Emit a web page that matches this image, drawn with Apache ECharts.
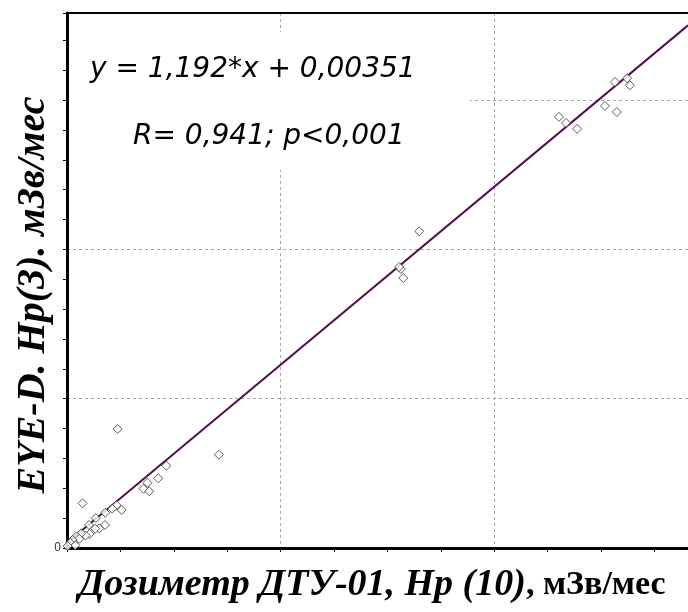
<!DOCTYPE html>
<html><head><meta charset="utf-8">
<script src="https://cdn.jsdelivr.net/npm/echarts@6/dist/echarts.min.js"></script>
<style>html,body{margin:0;padding:0;background:#fff}#c{width:688px;height:612px}</style>
</head><body><div id="c"></div>
<script>
// Measured doses (x: DTU-01 Hp(10), y: EYE-D Hp(3)), mSv/month
const xVals = [0.2303,0.2336,0.2388,0.2518,0.2565,0.2574,0.2622,0.2635,
  0.1649,0.1563,0.1555,0.1574,0.0711,
  0.0237,0.0465,0.0427,0.0377,0.0358,0.0385,0.0073,0.0256,0.0232,0.0212,0.0179,0.0135,
  0.0178,0.0151,0.0132,0.0103,0.0106,0.0087,0.0066,0.0044,0.0058,0.0026,0.0015,0.0039,0.0003];
const yVals = [0.2887,0.2847,0.2807,0.2961,0.3121,0.2920,0.3146,0.3099,
  0.2121,0.1869,0.1882,0.1808,0.0625,
  0.0797,0.0551,0.0467,0.0437,0.0397,0.0380,0.0299,0.0255,0.0286,0.0263,0.0236,0.0201,
  0.0154,0.0131,0.0129,0.0154,0.0094,0.0084,0.0098,0.0078,0.0062,0.0054,0.0035,0.0018,0.0013];
const slope = 1.192, intercept = 0.00351;
const xMax = 0.2907, yMax = 0.3583, step = 0.1;
const eqText = 'y = 1,192*x + 0,00351';
const rText = 'R= 0,941; p<0,001';
const yTitle = 'EYE-D. Hp(3). мЗв/мес';
const xTitleItalic = 'Дозиметр ДТУ-01, Hp (10)';
const xTitleUnit = ', мЗв/мес';

const pts = xVals.map((x, i) => [x, yVals[i]]);
const fitLine = [[0, intercept], [xMax, slope * xMax + intercept]];

const chart = echarts.init(document.getElementById('c'));
chart.setOption({
  animation: false,
  grid: {left: 67, right: 0, top: 13, bottom: 64},
  xAxis: {
    type: 'value', min: 0, max: xMax, interval: step,
    axisLine: {onZero: false, lineStyle: {color: '#000', width: 3}},
    axisTick: {show: true, length: 4, lineStyle: {color: '#000'}},
    minorTick: {show: true, splitNumber: 4, length: 4, lineStyle: {color: '#000'}},
    axisLabel: {show: false},
    splitLine: {show: true, lineStyle: {color: '#a8a8a8', type: [3, 3], width: 1}}
  },
  yAxis: {
    type: 'value', min: 0, max: yMax, interval: step,
    axisLine: {onZero: false, lineStyle: {color: '#000', width: 3}},
    axisTick: {show: true, length: 4, lineStyle: {color: '#000'}},
    minorTick: {show: true, splitNumber: 5, length: 4, lineStyle: {color: '#000'}},
    axisLabel: {
      show: true, margin: 6, fontFamily: 'Liberation Sans', fontSize: 12, color: '#1f3563',
      formatter: v => (v === 0 ? '0' : '')
    },
    splitLine: {show: true, lineStyle: {color: '#a8a8a8', type: [3, 3], width: 1}}
  },
  graphic: [
    {type: 'rect', z: 5, shape: {x: 69, y: 32, width: 401, height: 138}, style: {fill: '#fff'}},
    {type: 'line', z: 6, shape: {x1: 66, y1: 13, x2: 688, y2: 13}, style: {stroke: '#000', lineWidth: 2}},
    {type: 'text', z: 7, x: 90, y: 70, style: {text: eqText, font: 'italic 28px "DejaVu Sans"', fill: '#000', verticalAlign: 'middle'}},
    {type: 'text', z: 7, x: 133, y: 137, style: {text: rText, font: 'italic 28px "DejaVu Sans"', fill: '#000', verticalAlign: 'middle'}},
    {type: 'text', z: 7, x: 34, y: 295, rotation: Math.PI / 2,
      style: {text: yTitle, font: 'italic bold 40px "Liberation Serif"', fill: '#000', align: 'center', verticalAlign: 'middle'}},
    {type: 'text', z: 7, x: 372, y: 585,
      style: {
        text: '{a|' + xTitleItalic + '}{b|' + xTitleUnit + '}',
        align: 'center', verticalAlign: 'middle',
        rich: {
          a: {font: 'italic bold 38px "Liberation Serif"', fill: '#000'},
          b: {font: 'bold 34px "Liberation Serif"', fill: '#000'}
        }
      }}
  ],
  series: [
    {
      type: 'line', data: fitLine, symbol: 'none', z: 3,
      lineStyle: {color: '#500f50', width: 2}
    },
    {
      type: 'scatter', data: pts, symbol: 'diamond', symbolSize: 9, z: 4,
      itemStyle: {color: '#fff', borderColor: '#333', borderWidth: 1}
    }
  ]
});
</script>
</body></html>
